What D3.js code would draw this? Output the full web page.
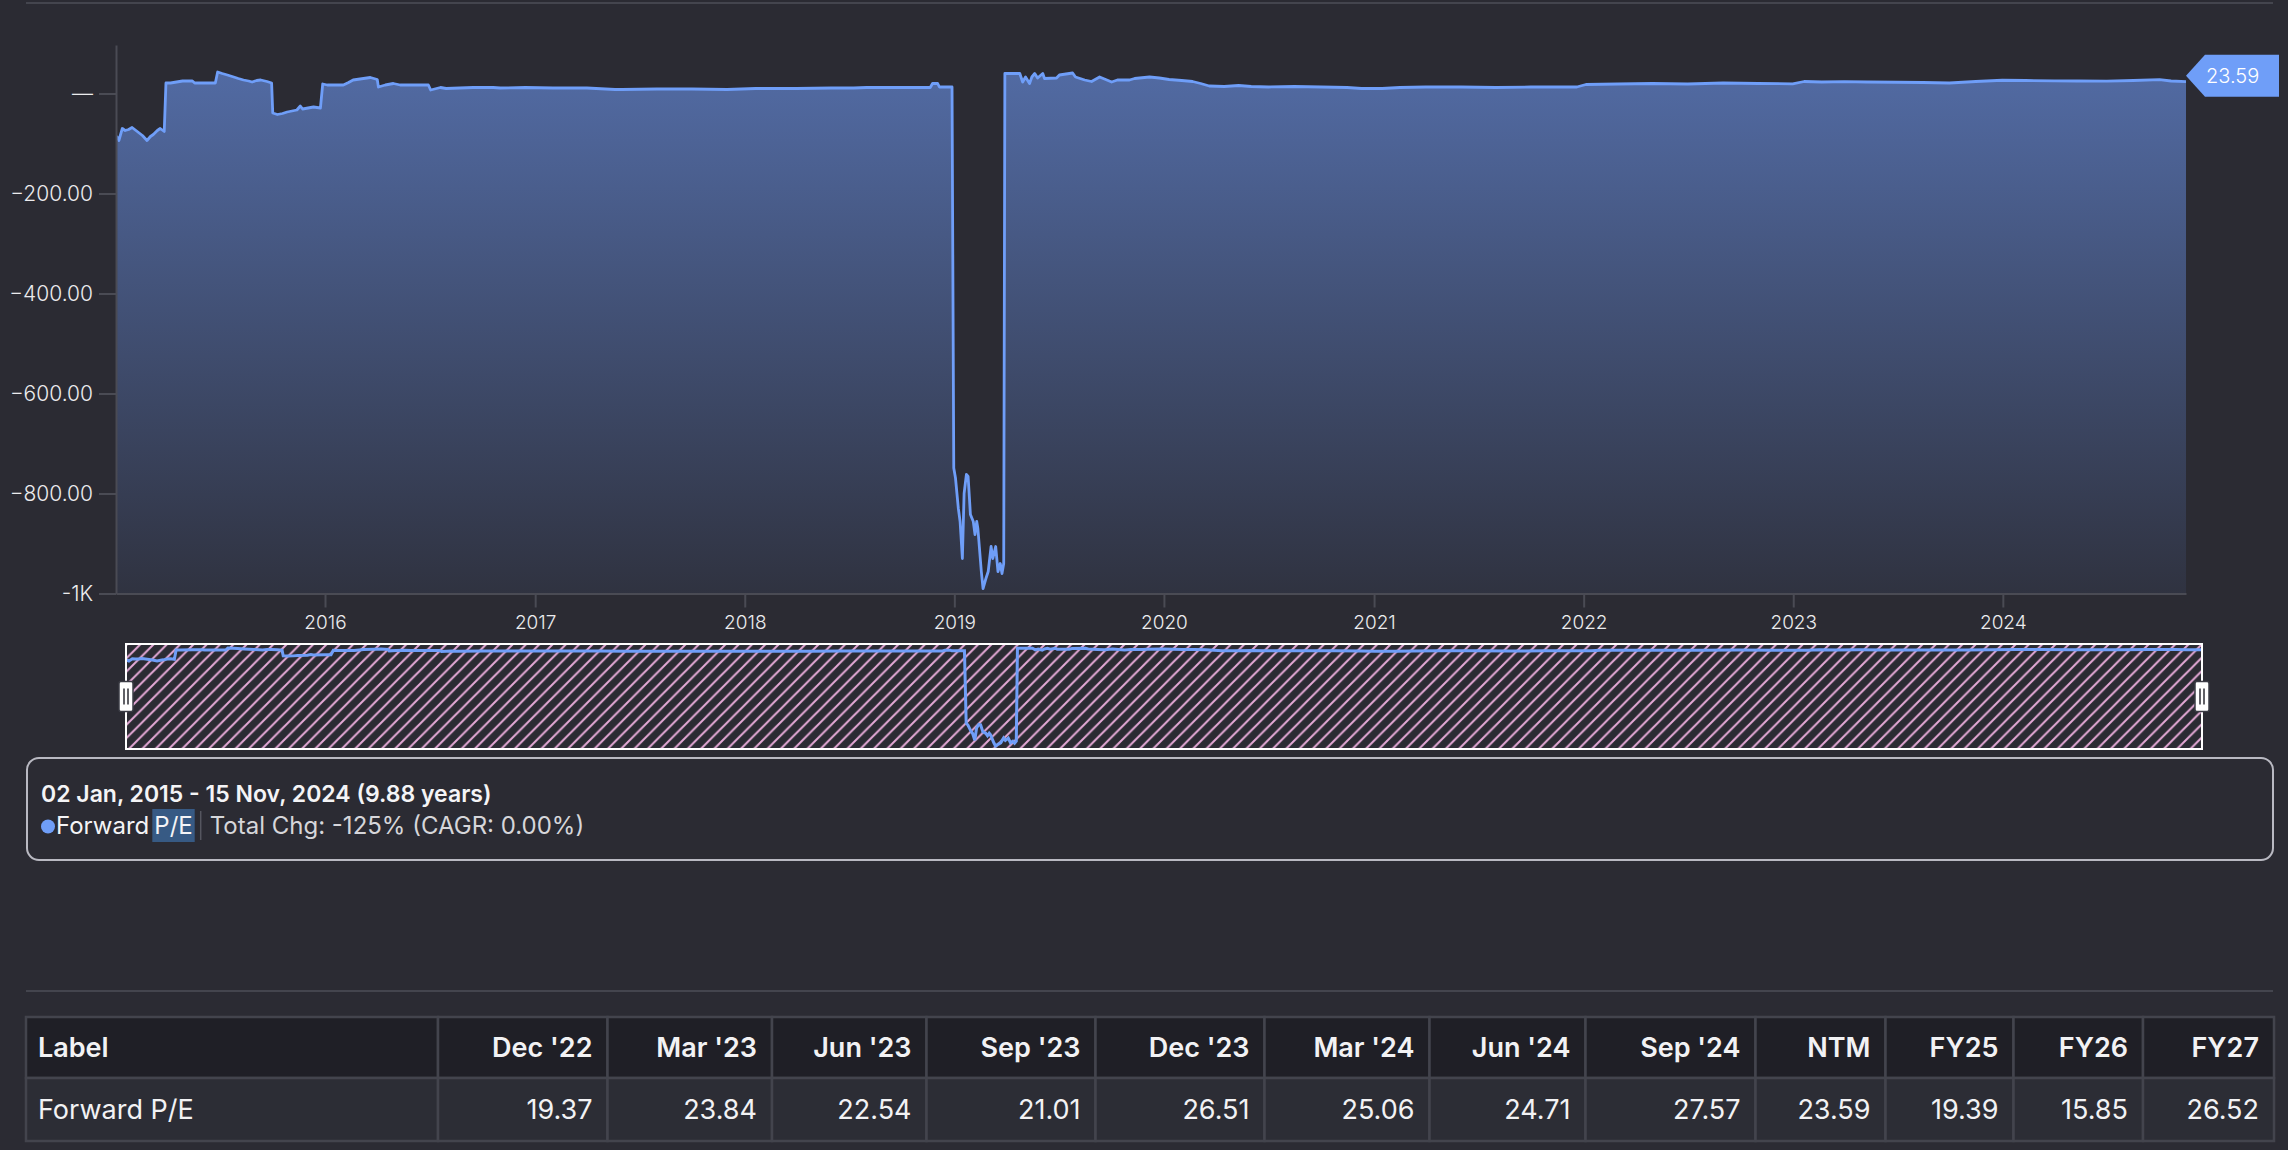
<!DOCTYPE html>
<html><head><meta charset="utf-8">
<script src="https://cdn.jsdelivr.net/npm/d3@7"></script>
<style>
html,body{margin:0;padding:0;background:#2b2b33;}
svg{display:block;}
text{font-family:Inter,"Noto Sans",sans-serif;}
</style></head><body>
<svg id="chart" width="2288" height="1150"></svg>
<script>
// ---------------- DATA ----------------
const dates = [
"2015-01-02","2015-01-04","2015-01-07","2015-01-13","2015-01-18","2015-01-24","2015-01-30","2015-02-08","2015-02-17","2015-02-25","2015-03-03","2015-03-08","2015-03-15","2015-03-20","2015-03-27",
"2015-03-30","2015-04-07","2015-04-28","2015-05-15","2015-05-19","2015-06-24",
"2015-06-28","2015-07-06","2015-07-15","2015-07-26","2015-08-03","2015-08-12","2015-08-21","2015-08-27","2015-09-04","2015-09-11","2015-09-22","2015-09-30",
"2015-10-02","2015-10-10","2015-10-19","2015-10-27","2015-11-13","2015-11-19","2015-11-23","2015-12-12","2015-12-24",
"2015-12-28","2016-01-05","2016-02-02","2016-02-11","2016-02-19","2016-03-08","2016-03-20","2016-04-01",
"2016-04-03","2016-04-15","2016-04-29","2016-05-11","2016-06-29","2016-07-03","2016-07-20","2016-07-30",
"2016-09-15","2016-10-20","2016-11-01","2016-12-15","2017-02-01","2017-04-01","2017-05-20","2017-06-01","2017-08-01","2017-10-01","2017-12-01",
"2018-01-20","2018-02-01","2018-04-01","2018-06-01","2018-07-10","2018-08-01","2018-10-01","2018-11-20","2018-11-24","2018-12-03","2018-12-06","2018-12-28",
"2018-12-31","2019-01-03","2019-01-08","2019-01-11","2019-01-15","2019-01-18","2019-01-22","2019-01-25","2019-01-29","2019-02-03","2019-02-06","2019-02-09","2019-02-11","2019-02-17","2019-02-20","2019-02-25","2019-03-01","2019-03-06","2019-03-09","2019-03-14","2019-03-18","2019-03-22","2019-03-25","2019-03-28",
"2019-03-30","2019-04-25","2019-04-30","2019-05-05","2019-05-12","2019-05-16","2019-05-21","2019-05-26","2019-06-04","2019-06-07","2019-06-28","2019-07-03","2019-07-26","2019-07-31","2019-08-16","2019-08-28","2019-09-11","2019-10-02","2019-10-12","2019-11-02","2019-11-11","2019-12-07","2019-12-24",
"2020-01-10","2020-02-01","2020-02-20","2020-03-05","2020-03-20","2020-04-15","2020-05-10","2020-06-01","2020-07-01","2020-08-15","2020-10-01","2020-11-15","2020-12-10",
"2021-01-15","2021-02-15","2021-04-01","2021-06-01","2021-08-01","2021-10-01","2021-12-20",
"2022-01-05","2022-03-01","2022-05-01","2022-07-01","2022-09-01","2022-11-01","2022-12-31",
"2023-01-20","2023-02-20","2023-03-31","2023-05-10","2023-06-30","2023-08-15","2023-09-30","2023-11-15","2023-12-31",
"2024-02-10","2024-03-31","2024-05-10","2024-06-30","2024-08-15","2024-09-30","2024-10-20","2024-11-15"
];
const forwardPE = [
-87,-87,-94,-70,-74,-72,-68,-76,-84,-94,-86,-82,-74,-70,-76,
21,21,25,25,21,21,
43,40,37,33,30,27,25,23,26,27,24,21,
-39,-42,-40,-37,-33,-25,-31,-27,-29,
19,17,17,22,27,30,32,28,
13,17,20,17,17,7,12,10,
12,12,11,12,11,11,8,8,9,9,8,
10,10,10,11,11,12,12,12,20,20,13,13,
-749,-769,-830,-856,-930,-800,-762,-766,-842,-856,-882,-856,-870,-956,-990,-970,-956,-906,-930,-906,-956,-940,-960,-940,
40,40,23,33,20,33,40,31,40,30,31,37,41,33,27,24,33,23,27,27,30,33,31,
28,26,24,20,15,14,16,14,13,14,13,12,10,
10,12,13,13,12,13,13,
18,19,20,19,21,20,19.37,
24,23,23.84,23,22.54,22,21.01,24,26.51,
26,25.06,25,24.71,26,27.57,25,23.59
];
const yTickValues = [0,-200,-400,-600,-800,-1000];
const xTickYears = [2016,2017,2018,2019,2020,2021,2022,2023,2024];
const rangeStart = "2015-01-02", rangeEnd = "2024-11-15";
const rangeText = "02 Jan, 2015 - 15 Nov, 2024 (9.88 years)";
const seriesNameA = "Forward", seriesNameB = "P/E";
const changeText = "Total Chg: -125% (CAGR: 0.00%)";
const tableColumns = ["Label","Dec '22","Mar '23","Jun '23","Sep '23","Dec '23","Mar '24","Jun '24","Sep '24","NTM","FY25","FY26","FY27"];
const tableRowLabel = "Forward P/E";
const tableValues = [19.37,23.84,22.54,21.01,26.51,25.06,24.71,27.57,23.59,19.39,15.85,26.52];

// ---------------- LAYOUT ----------------
const colEdges = [26,438,607.5,772,926.5,1095.5,1264.5,1429.5,1585.5,1755.5,1885.5,2013.5,2143,2274];
const BG = "#2b2b33", LINE = "#6f9ef8", GRID = "#4a4b54", TXT = "#ececee";

const parse = d3.timeParse("%Y-%m-%d");
const data = dates.map((d,i)=>({t:parse(d), v:forwardPE[i]}));
const svg = d3.select("#chart");
const defs = svg.append("defs");

const plot = {left:116, right:2186, top:45, bottom:593.5};
const x = d3.scaleTime().domain([parse(rangeStart), parse(rangeEnd)]).range([plot.left, plot.right]);
const y = d3.scaleLinear().domain([-1000, 97]).range([plot.bottom, plot.top]);

svg.append("line").attr("x1",26).attr("x2",2273).attr("y1",3).attr("y2",3)
  .attr("stroke","#44454e").attr("stroke-width",2);

const grad = defs.append("linearGradient").attr("id","areaGrad")
  .attr("gradientUnits","userSpaceOnUse").attr("x1",0).attr("x2",0)
  .attr("y1",plot.top).attr("y2",plot.bottom);
grad.append("stop").attr("offset",0).attr("stop-color","#6c96f0").attr("stop-opacity",0.62);
grad.append("stop").attr("offset",1).attr("stop-color","#6c96f0").attr("stop-opacity",0.07);

const area = d3.area().x(d=>x(d.t)).y0(plot.bottom).y1(d=>y(d.v));
svg.append("path").datum(data).attr("d",area).attr("fill","url(#areaGrad)");
const line = d3.line().x(d=>x(d.t)).y(d=>y(d.v));
svg.append("path").datum(data).attr("d",line).attr("fill","none")
  .attr("stroke",LINE).attr("stroke-width",2.8).attr("stroke-linejoin","round");

const yFmt = v => v===0 ? "—" : (v<=-1000 ? (v/1000)+"K" : d3.format(".2f")(v));
const yAxis = svg.append("g").attr("transform",`translate(${plot.left},0)`)
  .call(d3.axisLeft(y).tickValues(yTickValues).tickFormat(yFmt).tickSize(17).tickSizeOuter(0).tickPadding(6));
const xAxis = svg.append("g").attr("transform",`translate(0,${plot.bottom})`)
  .call(d3.axisBottom(x).tickValues(xTickYears.map(yr=>new Date(yr,0,1))).tickFormat(d3.timeFormat("%Y")).tickSize(14).tickSizeOuter(0).tickPadding(8));
[yAxis,xAxis].forEach(g=>{
  g.select(".domain").attr("stroke",GRID).attr("stroke-width",2);
  g.selectAll(".tick line").attr("stroke",GRID).attr("stroke-width",2);
  g.selectAll(".tick text").attr("fill",TXT).attr("font-family","Inter").attr("font-weight",300);
});
yAxis.selectAll(".tick text").attr("font-size",21);
xAxis.selectAll(".tick text").attr("font-size",19);

// last value tag
const last = data[data.length-1];
const lx = x(last.t), ly = y(last.v) - 6;
svg.append("path")
  .attr("d",`M${lx},${ly} L${lx+19},${ly-21} L${lx+93},${ly-21} L${lx+93},${ly+21} L${lx+19},${ly+21} Z`)
  .attr("fill",LINE);
svg.append("text").attr("x",lx+20).attr("y",ly).attr("dy","0.36em").attr("text-anchor","start")
  .attr("fill","#ffffff").attr("font-size",20).attr("font-weight",300).text(d3.format(".2f")(last.v));

// ---------------- NAVIGATOR ----------------
const nav = {left:126, right:2202, top:644, bottom:749};
const xn = d3.scaleTime().domain(x.domain()).range([nav.left, nav.right]);
const yn = d3.scaleLinear().domain(d3.extent(forwardPE)).range([nav.bottom-3, nav.top+4]);
const pat = defs.append("pattern").attr("id","hatch").attr("patternUnits","userSpaceOnUse")
  .attr("width",13.3).attr("height",13.3);
pat.append("path").attr("d","M0,13.3 L13.3,0 M-3,3 L3,-3 M10.3,16.3 L16.3,10.3")
  .attr("stroke","#e4a9d6").attr("stroke-width",2);
defs.append("clipPath").attr("id","navClip").append("rect")
  .attr("x",nav.left).attr("y",nav.top).attr("width",nav.right-nav.left).attr("height",nav.bottom-nav.top);
svg.append("rect").attr("x",nav.left).attr("y",nav.top).attr("width",nav.right-nav.left).attr("height",nav.bottom-nav.top)
  .attr("fill",BG);
svg.append("rect").attr("x",nav.left).attr("y",nav.top).attr("width",nav.right-nav.left).attr("height",nav.bottom-nav.top)
  .attr("fill","url(#hatch)");
svg.append("path").datum(data).attr("clip-path","url(#navClip)")
  .attr("d",d3.line().x(d=>xn(d.t)).y(d=>yn(d.v))).attr("fill","none").attr("stroke",LINE).attr("stroke-width",3);
svg.append("rect").attr("x",nav.left).attr("y",nav.top).attr("width",nav.right-nav.left).attr("height",nav.bottom-nav.top)
  .attr("fill","none").attr("stroke","#ffffff").attr("stroke-width",2);
[nav.left, nav.right].forEach(hx=>{
  const g = svg.append("g").attr("transform",`translate(${hx},${(nav.top+nav.bottom)/2})`);
  g.append("rect").attr("x",-7).attr("y",-15).attr("width",14).attr("height",30).attr("rx",2)
    .attr("fill","#ffffff").attr("stroke","#3a3b44").attr("stroke-width",1.5);
  [-2,2].forEach(dx=>g.append("line").attr("x1",dx).attr("x2",dx).attr("y1",-8).attr("y2",8)
    .attr("stroke","#2b2b33").attr("stroke-width",1.5));
});

// ---------------- INFO BOX ----------------
svg.append("rect").attr("x",27).attr("y",758).attr("width",2246).attr("height",102).attr("rx",12)
  .attr("fill","none").attr("stroke","#b9b9c2").attr("stroke-width",2);
svg.append("text").attr("x",41).attr("y",802).attr("font-size",23).attr("font-weight",600)
  .attr("fill","#f4f4f6").text(rangeText);
svg.append("circle").attr("cx",48).attr("cy",826.5).attr("r",7).attr("fill",LINE);
const tA = svg.append("text").attr("x",56).attr("y",834).attr("font-size",24).attr("font-weight",400)
  .attr("fill","#f4f4f6").text(seriesNameA);
const wA = tA.node().getComputedTextLength();
const bx = 56 + wA + 5;
const hl = svg.append("rect").attr("x",bx-2).attr("y",809).attr("height",33).attr("fill","#375a84");
const tB = svg.append("text").attr("x",bx).attr("y",834).attr("font-size",24).attr("font-weight",400)
  .attr("fill","#f4f4f6").text(seriesNameB);
const wB = tB.node().getComputedTextLength();
hl.attr("width",wB+4);
svg.append("line").attr("x1",bx+wB+8).attr("x2",bx+wB+8).attr("y1",811).attr("y2",840)
  .attr("stroke","#55565f").attr("stroke-width",1.5);
svg.append("text").attr("x",bx+wB+17).attr("y",834).attr("font-size",24).attr("font-weight",400)
  .attr("fill","#d6d6da").text(changeText);

svg.append("line").attr("x1",26).attr("x2",2273).attr("y1",991).attr("y2",991)
  .attr("stroke","#44454e").attr("stroke-width",2);

// ---------------- TABLE ----------------
const rows = [
  {y0:1017, y1:1078, fill:"#1f1f26", cells:tableColumns, weight:600},
  {y0:1078, y1:1141, fill:"#2c2d35", cells:[tableRowLabel].concat(tableValues.map(d3.format(".2f"))), weight:400}
];
rows.forEach(r=>{
  r.cells.forEach((c,i)=>{
    const x0 = colEdges[i], x1 = colEdges[i+1];
    svg.append("rect").attr("x",x0).attr("y",r.y0).attr("width",x1-x0).attr("height",r.y1-r.y0)
      .attr("fill",r.fill).attr("stroke","#43444d").attr("stroke-width",2.5);
    svg.append("text").attr("x", i===0 ? x0+12 : x1-15).attr("y",(r.y0+r.y1)/2).attr("dy","0.36em")
      .attr("text-anchor", i===0 ? "start":"end").attr("font-size",27).attr("font-weight",r.weight)
      .attr("fill","#f2f2f4").text(c);
  });
});
</script>
</body></html>
